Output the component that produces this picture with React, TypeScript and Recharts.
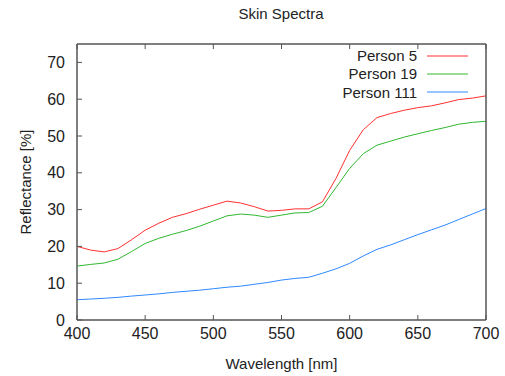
import { LineChart, Line, XAxis, YAxis, ReferenceArea, Legend } from 'recharts';

const wavelengths = [
    400, 410, 420, 430, 440, 450, 460, 470, 480, 490,
    500, 510, 520, 530, 540, 550, 560, 570, 580, 590,
    600, 610, 620, 630, 640, 650, 660, 670, 680, 690, 700,
];
const person5 = [
    20.0, 19.0, 18.5, 19.4, 21.8, 24.4, 26.3, 27.9, 28.9, 30.1,
    31.2, 32.3, 31.8, 30.8, 29.6, 29.8, 30.2, 30.2, 32.1, 38.5,
    46.1, 51.7, 55.0, 56.1, 57.0, 57.7, 58.2, 59.0, 59.9, 60.3, 60.9,
];
const person19 = [
    14.65, 15.1, 15.5, 16.5, 18.6, 20.8, 22.2, 23.3, 24.3, 25.5,
    26.9, 28.3, 28.8, 28.5, 27.9, 28.5, 29.1, 29.2, 30.9, 36.0,
    41.2, 45.2, 47.5, 48.6, 49.7, 50.6, 51.5, 52.3, 53.2, 53.7, 54.0,
];
const person111 = [
    5.5, 5.7, 5.9, 6.15, 6.5, 6.8, 7.1, 7.5, 7.8, 8.1,
    8.5, 8.9, 9.2, 9.7, 10.2, 10.85, 11.3, 11.6, 12.7, 13.9,
    15.4, 17.4, 19.2, 20.4, 21.8, 23.2, 24.5, 25.8, 27.3, 28.8, 30.3,
];
const xTicks = [400, 450, 500, 550, 600, 650, 700];
const yTicks = [0, 10, 20, 30, 40, 50, 60, 70];

const series = [
    { key: 'p5', name: 'Person 5', color: '#ff3030' },
    { key: 'p19', name: 'Person 19', color: '#30b830' },
    { key: 'p111', name: 'Person 111', color: '#3088ff' },
];

const data = wavelengths.map((w, i) => ({
    w,
    p5: person5[i],
    p19: person19[i],
    p111: person111[i],
}));

const font = '"Liberation Sans", Arial, sans-serif';
const axisColor = '#555';

// keep the key in plotting order (recharts sorts it by name otherwise)
const KeyBox = ({ payload }: any) => {
    const items = series.map((s) => (payload || []).find((p: any) => p.dataKey === s.key)).filter(Boolean);
    return (
        <div style={{ fontFamily: font, fontSize: 15, color: '#222' }}>
            {items.map((p: any) => (
                <div key={p.value} style={{ height: 18.3, display: 'flex', alignItems: 'center', justifyContent: 'flex-end' }}>
                    <span style={{ lineHeight: 1 }}>{p.value}</span>
                    <svg width={41} height={2} style={{ marginLeft: 10 }}>
                        <line x1={0} y1={1} x2={41} y2={1} stroke={p.color} strokeWidth={1} />
                    </svg>
                </div>
            ))}
        </div>
    );
};

export default function App() {
    return (
        <div style={{ position: 'absolute', left: 0, top: 0, width: 505, height: 376, background: '#fff' }}>
            <div style={{
                position: 'absolute', left: 181, top: 6, width: 200, textAlign: 'center',
                fontFamily: font, fontSize: 15, lineHeight: 1, color: '#222'
            }}>
                Skin Spectra
            </div>
            <LineChart
                width={505}
                height={376}
                data={data}
                margin={{ top: 43, right: 18, bottom: 0, left: 21 }}
            >
                <XAxis
                    dataKey="w"
                    type="number"
                    domain={[400, 700]}
                    ticks={xTicks}
                    height={56}
                    tickSize={-5}
                    tickMargin={13}
                    stroke={axisColor}
                    tick={{ fill: '#222', fontSize: 16, fontFamily: font }}
                    label={{ value: 'Wavelength [nm]', position: 'insideBottom', offset: 7, fill: '#222', fontSize: 15, fontFamily: font }}
                />
                <XAxis
                    xAxisId="top"
                    dataKey="w"
                    type="number"
                    orientation="top"
                    domain={[400, 700]}
                    ticks={xTicks}
                    height={1}
                    tickSize={-5}
                    tickFormatter={() => ''}
                    stroke={axisColor}
                />
                <YAxis
                    type="number"
                    domain={[0, 75]}
                    ticks={yTicks}
                    width={56}
                    tickSize={-5}
                    tickMargin={17}
                    stroke={axisColor}
                    tick={{ fill: '#222', fontSize: 16, fontFamily: font }}
                    label={{ value: 'Reflectance [%]', angle: -90, position: 'insideLeft', offset: 5, fill: '#222', fontSize: 15, fontFamily: font, style: { textAnchor: 'middle' } }}
                />
                <YAxis
                    yAxisId="right"
                    orientation="right"
                    type="number"
                    domain={[0, 75]}
                    ticks={yTicks}
                    width={1}
                    tickSize={-5}
                    tickFormatter={() => ''}
                    stroke={axisColor}
                />
                <ReferenceArea x1={400} x2={700} y1={0} y2={75} fill="none" stroke={axisColor} />
                <Legend
                    layout="vertical"
                    align="center"
                    verticalAlign="middle"
                    content={<KeyBox />}
                    wrapperStyle={{ left: 300, top: 46.5, width: 168 }}
                />
                {series.map((s) => (
                    <Line
                        key={s.key}
                        dataKey={s.key}
                        name={s.name}
                        type="linear"
                        stroke={s.color}
                        strokeWidth={1}
                        dot={false}
                        isAnimationActive={false}
                    />
                ))}
            </LineChart>
        </div>
    );
}
